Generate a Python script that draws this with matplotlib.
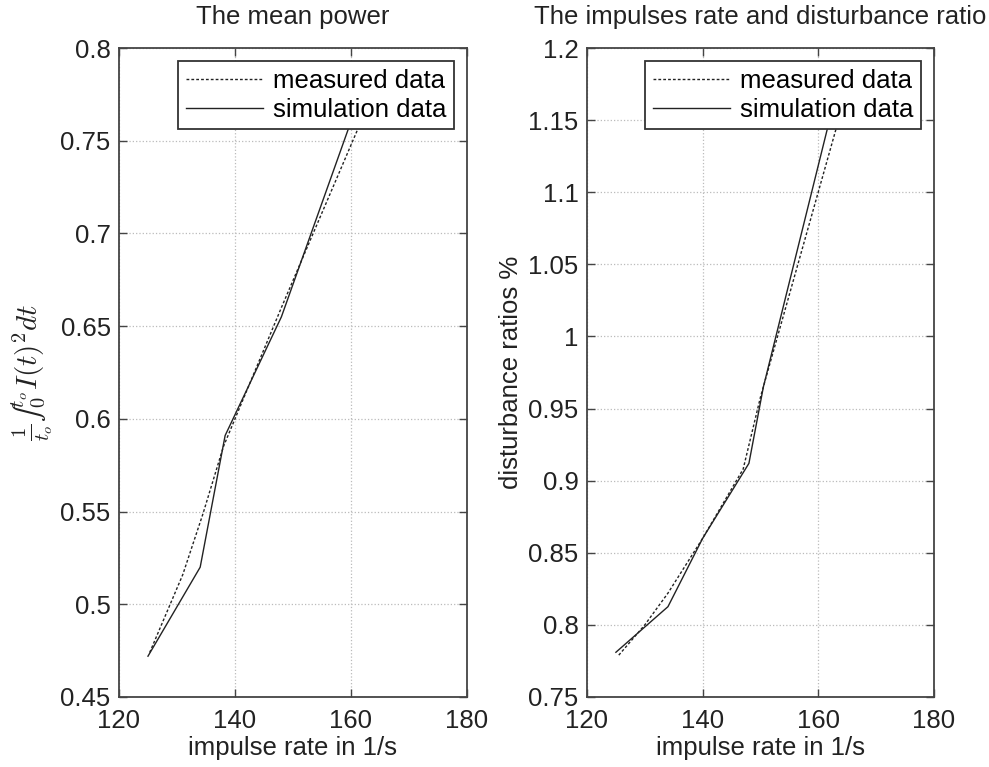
import matplotlib.pyplot as plt
from matplotlib.ticker import FormatStrFormatter, MultipleLocator

plt.rcParams['font.family'] = ['Liberation Sans', 'DejaVu Sans']
plt.rcParams['mathtext.fontset'] = 'cm'

# mean power (left)
power_meas_x = [125.3, 131.0, 134.5, 138.0, 148.0, 161.0, 163.0]
power_meas_y = [0.474, 0.516, 0.549, 0.585, 0.660, 0.755, 0.775]
power_sim_x = [125.0, 134.0, 138.3, 148.0, 159.5, 161.8]
power_sim_y = [0.472, 0.520, 0.591, 0.655, 0.756, 0.776]

# disturbance ratio (right)
ratio_meas_x = [125.5, 130.0, 134.0, 140.0, 147.0, 150.0, 163.0, 165.0]
ratio_meas_y = [0.779, 0.800, 0.822, 0.860, 0.908, 0.958, 1.143, 1.170]
ratio_sim_x = [125.0, 134.0, 140.0, 148.0, 150.5, 161.5, 163.2]
ratio_sim_y = [0.781, 0.8126, 0.860, 0.912, 0.965, 1.143, 1.170]

x_ticks = [120, 140, 160, 180]

fig = plt.figure(figsize=(9.89, 7.67), dpi=100)
ax1 = fig.add_axes([0.1203, 0.0913, 0.3519, 0.8461])
ax2 = fig.add_axes([0.5935, 0.0913, 0.3509, 0.8461])

fs = 18.5
txt_col = '#222222'
spine_col = '#444444'


def style_axes(ax, ylim, ystep):
    ax.set_xlim(120, 180)
    ax.set_ylim(*ylim)
    ax.set_xticks(x_ticks)
    ax.yaxis.set_major_locator(MultipleLocator(ystep))
    ax.yaxis.set_major_formatter(FormatStrFormatter('%g'))
    ax.tick_params(direction='in', top=True, right=True, length=6,
                   width=1, colors=spine_col, labelcolor=txt_col,
                   labelsize=fs)
    ax.tick_params(axis='y', pad=6)
    ax.tick_params(axis='x', pad=9)
    for s in ax.spines.values():
        s.set_color(spine_col)
        s.set_linewidth(1.3)
    ax.grid(True, linestyle=':', color='#bbbbbb', linewidth=0.9)
    ax.set_axisbelow(True)


def add_lines(ax, mx, my, sx, sy):
    ax.plot(mx, my, color=txt_col, linestyle=(0, (2, 1.5)), lw=1.0,
            label='measured data')
    ax.plot(sx, sy, color=txt_col, linestyle='-', lw=1.0,
            label='simulation data')
    leg = ax.legend(loc='upper right', fontsize=fs, fancybox=False,
                    framealpha=1, edgecolor='#333333', handlelength=3.0,
                    borderpad=0.3, labelspacing=0.2, handletextpad=0.4,
                    borderaxespad=0.5)
    leg.get_frame().set_linewidth(1.3)


style_axes(ax1, (0.45, 0.8), 0.05)
add_lines(ax1, power_meas_x, power_meas_y, power_sim_x, power_sim_y)
ax1.set_title('The mean power', fontsize=fs, color=txt_col, pad=17)
ax1.set_xlabel('impulse rate in 1/s', fontsize=fs, color=txt_col, labelpad=2)
ax1.set_ylabel('$\\frac{1}{t_o}\u222b_0^{t_o} I(t)^2dt$', fontsize=21,
               color=txt_col, labelpad=4)

style_axes(ax2, (0.75, 1.2), 0.05)
add_lines(ax2, ratio_meas_x, ratio_meas_y, ratio_sim_x, ratio_sim_y)
ax2.set_title('The impulses rate and disturbance ratio', fontsize=fs,
              color=txt_col, pad=17)
ax2.set_xlabel('impulse rate in 1/s', fontsize=fs, color=txt_col, labelpad=2)
ax2.set_ylabel('disturbance ratios %', fontsize=fs, color=txt_col)

fig.savefig('out.png', dpi=100)
